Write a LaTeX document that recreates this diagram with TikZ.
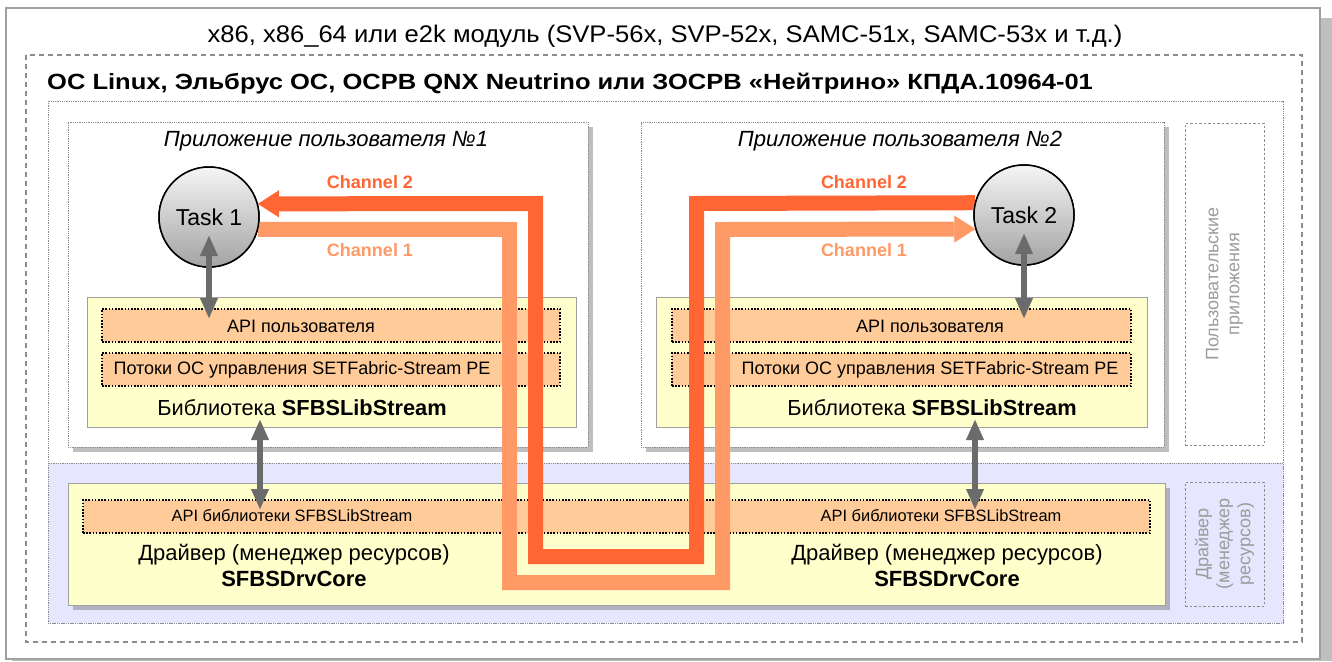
\documentclass[tikz,border=0pt]{standalone}
\usepackage{fontspec}
\usepackage{graphicx}
\setmainfont{Liberation Sans}
\usetikzlibrary{arrows.meta,calc}

\definecolor{framegray}{HTML}{A0A0A0}
\definecolor{shadowgray}{HTML}{BFBFBF}
\definecolor{drvshadow}{HTML}{B0B0C0}
\definecolor{dashgray}{HTML}{8C8C8C}
\definecolor{libyellow}{HTML}{FFFFCC}
\definecolor{apiorange}{HTML}{FFCC99}
\definecolor{drvblue}{HTML}{E6E6FF}
\definecolor{chtwo}{HTML}{FF6633}
\definecolor{chone}{HTML}{FF9966}
\definecolor{arrowgray}{HTML}{6B6B6B}
\definecolor{labelgray}{HTML}{9C9C9C}

\newcommand\fsz[2]{\fontsize{#1}{#2}\selectfont}

\begin{document}
\begin{tikzpicture}[x=1pt,y=-1pt,
  box/.style={anchor=north west, inner sep=0pt, outer sep=0pt},
  appbox/.style={box, draw=dashgray, densely dotted, line width=0.8pt, fill=white},
  sidebox/.style={box, draw=dashgray, dash pattern=on 2.5pt off 2pt, line width=0.8pt},
  libbox/.style={box, draw=framegray, line width=1pt, fill=libyellow},
  apistrip/.style={box, draw=black, dash pattern=on 1.6pt off 1.6pt, line width=1.1pt, fill=apiorange},
  tasknode/.style={circle, draw=black, line width=1.5pt, minimum size=100pt, inner sep=0pt,
    top color=white!96!black, bottom color=black!36, font=\fsz{23}{27}},
  chan/.style={line width=15pt, line join=miter},
  chanlabel/.style={font=\fsz{18}{21}\bfseries},
  garrow/.style={draw=arrowgray, line width=6pt,
    {Triangle[width=18pt,length=20pt,line width=0.1pt]}-{Triangle[width=18pt,length=20pt,line width=0.1pt]}},
  sidelabel/.style={rotate=90, text=labelgray, align=center, font=\fsz{18}{21}}
]
\useasboundingbox (0,0) rectangle (1332,661);

% outer module frame with its shadow
\fill[shadowgray] (12,18) rectangle (1332,661);
\draw[framegray, line width=1.2pt, fill=white] (6,8) rectangle (1320,659);
\node (module) at (665,36)
  {\scalebox{1.066}[1]{\fsz{24}{28}x86, x86\_64 или e2k модуль (SVP-56x, SVP-52x, SAMC-51x, SAMC-53x и т.д.)}};

% operating system frame
\draw[dashgray, line width=2pt, dash pattern=on 5pt off 4pt] (26,55) rectangle (1302,642);
\node[anchor=west, inner sep=0pt] (os) at (47,84)
  {\scalebox{1.16}[1]{\fsz{22}{26}\bfseries ОС Linux, Эльбрус ОС, ОСРВ QNX Neutrino или ЗОСРВ «Нейтрино» КПДА.10964-01}};

% user space and driver space
\draw[dashgray, densely dotted, line width=0.8pt] (48,101) rectangle (1283,623);
\draw[dashgray, densely dotted, line width=0.8pt, fill=drvblue] (48,463) rectangle (1283,623);

% application boxes
\fill[shadowgray] (73,127) rectangle (593,452);
\node[appbox, minimum width=520pt, minimum height=325pt] (app1) at (68,122) {};
\fill[shadowgray] (646,127) rectangle (1169,452);
\node[appbox, minimum width=523pt, minimum height=325pt] (app2) at (641,122) {};
\node[font=\fsz{22}{26}\itshape] (app1t) at (326,141) {Приложение пользователя №1};
\node[font=\fsz{22}{26}\itshape] (app2t) at (900,141) {Приложение пользователя №2};

% side captions
\node[sidebox, minimum width=79pt, minimum height=322pt] (userside) at (1185,123) {};
\node[sidelabel] at (userside.center) {Пользовательские\\приложения};
\node[sidebox, minimum width=79pt, minimum height=124pt] (drvside) at (1185,482) {};
\node[sidelabel] at (drvside.center) {Драйвер\\(менеджер\\ресурсов)};

% libraries
\node[libbox, minimum width=489pt, minimum height=130pt] (lib1) at (87,297) {};
\node[apistrip, minimum width=458pt, minimum height=33pt] (api1) at (102,309) {};
\node[apistrip, minimum width=458pt, minimum height=33pt] (thr1) at (102,353) {};
\node[font=\fsz{18}{21}] at (301,326) {API пользователя};
\node[font=\fsz{18}{21}] at (302,370) {Потоки ОС управления SETFabric-Stream PE};
\node[font=\fsz{21.8}{26}] at (302,408) {Библиотека \textbf{SFBSLibStream}};

\node[libbox, minimum width=491pt, minimum height=130pt] (lib2) at (656,297) {};
\node[apistrip, minimum width=459pt, minimum height=33pt] (api2) at (672,309) {};
\node[apistrip, minimum width=459pt, minimum height=33pt] (thr2) at (672,353) {};
\node[font=\fsz{18}{21}] at (930,326) {API пользователя};
\node[font=\fsz{18}{21}] at (930,370) {Потоки ОС управления SETFabric-Stream PE};
\node[font=\fsz{21.8}{26}] at (932,408) {Библиотека \textbf{SFBSLibStream}};

% driver
\fill[drvshadow] (73,488) rectangle (1170,610);
\node[libbox, minimum width=1097pt, minimum height=122pt] (drv) at (68,483) {};
\node[apistrip, minimum width=1067pt, minimum height=33pt] (drvapi) at (83,500) {};
\node[font=\fsz{16.4}{19}] at (292,516) {API библиотеки SFBSLibStream};
\node[font=\fsz{16.4}{19}] at (941,516) {API библиотеки SFBSLibStream};
\node[font=\fsz{22}{26}, align=center] at (294,565) {Драйвер (менеджер ресурсов)\\\textbf{SFBSDrvCore}};
\node[font=\fsz{22}{26}, align=center] at (947,565) {Драйвер (менеджер ресурсов)\\\textbf{SFBSDrvCore}};

% tasks
\node[tasknode] (t1) at (209,217) {Task 1};
\node[tasknode] (t2) at (1024,215) {Task 2};

% channels between the tasks
\draw[chan, chtwo, -{Triangle[width=27pt,length=21pt,line width=0.1pt]}]
  (t2.166.7) -- (696.5,203.5) -- (696.5,556.5) -- (535.5,556.5) -- (535.5,203.5) -- (t1.15.7);
\draw[chan, chone, -{Triangle[width=27pt,length=21pt,line width=0.1pt]}]
  (t1.-14.6) -- (509.5,229.5) -- (509.5,582.5) -- (722.5,582.5) -- (722.5,229.5) -- (t2.196.5);
\node[tasknode] at (t1) {Task 1};
\node[tasknode] at (t2) {Task 2};

\node[chanlabel, text=chtwo] at (370,182) {Channel 2};
\node[chanlabel, text=chone] at (370,250) {Channel 1};
\node[chanlabel, text=chtwo] at (864,182) {Channel 2};
\node[chanlabel, text=chone] at (864,250) {Channel 1};

% calls between layers
\draw[garrow] ($(t1.center)+(0,19)$) -- ($(t1.center |- api1.north)+(0,9)$);
\draw[garrow] ($(t2.center)+(0,19)$) -- ($(t2.center |- api2.north)+(0,9)$);
\draw[garrow] ($(lib1.south west)+(173,-7)$) -- ($(drvapi.north west)+(177,9)$);
\draw[garrow] ($(lib2.south west)+(319,-7)$) -- ($(drvapi.north west)+(892,9)$);
\end{tikzpicture}
\end{document}
